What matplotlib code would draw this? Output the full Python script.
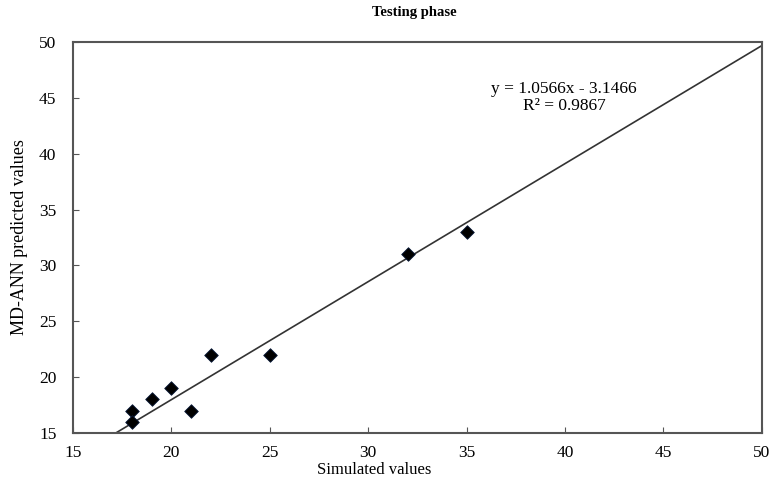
import matplotlib
matplotlib.use("Agg")
import matplotlib.pyplot as plt
import numpy as np

# テスト段階の散布データ
simulated = [18, 18, 19, 20, 21, 22, 25, 32, 35]
predicted = [17, 16, 18, 19, 17, 22, 22, 31, 33]

# 近似直線の係数
slope = 1.0566
intercept = -3.1466
r2 = 0.9867

ticks = [15, 20, 25, 30, 35, 40, 45, 50]

plt.rcParams['font.family'] = ['Liberation Serif', 'DejaVu Serif']

fig = plt.figure(figsize=(7.71, 4.84), dpi=100)
ax = fig.add_axes([0.0947, 0.1054, 0.8933, 0.8076])

xs = np.array([15, 50])
ax.plot(xs, slope * xs + intercept, color="#333333", linewidth=1.2, zorder=2)
ax.scatter(simulated, predicted, marker="D", s=48, color="black",
           edgecolors="#0a1a3a", linewidths=0.6, zorder=3)

ax.set_xlim(15, 50)
ax.set_ylim(15, 50)
ax.set_xticks(ticks)
ax.set_yticks(ticks)
ax.tick_params(direction="in", length=4, width=0.8, colors="#555555",
               labelcolor="black", labelsize=12.5)
ax.tick_params(axis="x", pad=9)
ax.tick_params(axis="y", pad=12)
for s in ax.spines.values():
    s.set_color("#555555")
    s.set_linewidth(1.5)

ax.text(0.713, 0.9, "y = %.4fx - %.4f\nR² = %.4f" % (slope, -intercept, r2),
        transform=ax.transAxes, ha="center", va="top", fontsize=12.5,
        linespacing=1.05)

fig.text(0.537, 0.975, "Testing phase", ha="center", va="center",
         fontsize=10.5, fontweight="bold")
fig.text(0.485, 0.029, "Simulated values", ha="center", va="center", fontsize=12)
fig.text(0.025, 0.51, "MD-ANN predicted values", ha="center", va="center",
         rotation="vertical", fontsize=13)

plt.savefig("out.png", dpi=100)
plt.close()
